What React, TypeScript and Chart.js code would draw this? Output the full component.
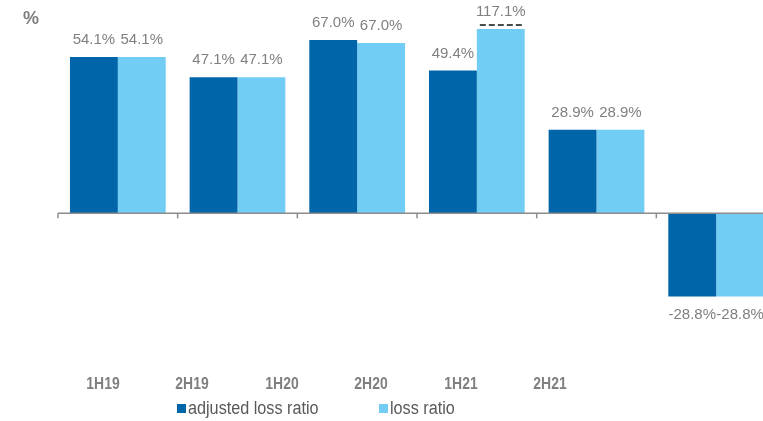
import React, { useEffect, useRef } from 'react';
import { Chart, registerables } from 'chart.js';

Chart.register(...registerables);

// ---- data ----
const categories = ['1H19', '2H19', '1H20', '2H20', '1H21', '2H21'];
const seriesNames = ['adjusted loss ratio', 'loss ratio'];
// values printed on the bars (%)
const adjustedLossRatio = [54.1, 47.1, 67.0, 49.4, 28.9, -28.8];
const lossRatio = [54.1, 47.1, 67.0, 117.1, 28.9, -28.8];
// bar heights as drawn in the picture (tall bars are shortened / broken)
const adjustedBarHeight = [54.1, 47.1, 60.0, 49.4, 28.9, -28.8];
const lossBarHeight = [54.1, 47.1, 58.9, 63.8, 28.9, -28.8];
const brokenLossBar = [false, false, false, true, false, false];

const DARK = '#0065A9';
const LIGHT = '#71CDF4';
const FONT = '"Liberation Sans", Arial, sans-serif';

const overlayPlugin = {
  id: 'overlay',
  afterDatasetsDraw(chart: any) {
    const { ctx, chartArea, scales } = chart;
    const x = scales.x;
    const y = scales.y;
    const y0 = y.getPixelForValue(0);
    ctx.save();
    // zero axis line with category boundary ticks
    ctx.strokeStyle = '#8c8c8c';
    ctx.lineWidth = 1.5;
    ctx.beginPath();
    ctx.moveTo(chartArea.left, y0);
    ctx.lineTo(chartArea.right, y0);
    ctx.stroke();
    const step = x.getPixelForValue(1) - x.getPixelForValue(0);
    for (let i = 0; i < categories.length; i++) {
      const bx = x.getPixelForValue(i) - step / 2;
      ctx.beginPath();
      ctx.moveTo(bx, y0);
      ctx.lineTo(bx, y0 + 5);
      ctx.stroke();
    }
    // value labels
    ctx.font = `15px ${FONT}`;
    ctx.fillStyle = '#808080';
    ctx.textAlign = 'center';
    ctx.textBaseline = 'middle';
    [adjustedLossRatio, lossRatio].forEach((vals, di) => {
      const meta = chart.getDatasetMeta(di);
      meta.data.forEach((bar: any, i: number) => {
        const v = vals[i];
        const p = bar.getProps(['x', 'y', 'width'], true);
        const ty = v >= 0 ? p.y - 17 : p.y + 18;
        ctx.fillText(v.toFixed(1) + '%', p.x, ty);
        if (di === 1 && brokenLossBar[i]) {
          ctx.save();
          ctx.strokeStyle = '#111';
          ctx.lineWidth = 1.5;
          ctx.setLineDash([6, 3]);
          ctx.beginPath();
          ctx.moveTo(p.x - p.width / 2 + 3, p.y - 4);
          ctx.lineTo(p.x + p.width / 2, p.y - 4);
          ctx.stroke();
          ctx.restore();
        }
      });
    });
    ctx.restore();
  },
};

export default function App() {
  const ref = useRef<HTMLCanvasElement>(null);

  useEffect(() => {
    document.body.style.margin = '0';
    const canvas = ref.current;
    if (!canvas) return;
    const chart = new Chart(canvas, {
      type: 'bar',
      data: {
        labels: categories,
        datasets: [
          {
            label: seriesNames[0],
            data: adjustedBarHeight,
            backgroundColor: DARK,
            categoryPercentage: 0.8,
            barPercentage: 1.0,
          },
          {
            label: seriesNames[1],
            data: lossBarHeight,
            backgroundColor: LIGHT,
            categoryPercentage: 0.8,
            barPercentage: 1.0,
          },
        ],
      },
      options: {
        responsive: false,
        devicePixelRatio: 1,
        animation: false,
        layout: { padding: { left: 58, right: 24, top: 10, bottom: 21 } },
        plugins: {
          legend: { display: false },
          tooltip: { enabled: false },
        },
        scales: {
          x: { display: false },
          y: { display: false, min: -64.6, max: 70.35 },
        },
      },
      plugins: [overlayPlugin],
    });
    return () => chart.destroy();
  }, []);

  const labelStyle: React.CSSProperties = {
    position: 'absolute',
    top: 384,
    transform: 'translate(-50%, -50%) scaleX(0.87)',
    font: `bold 16px ${FONT}`,
    color: '#7f7f7f',
    whiteSpace: 'nowrap',
  };
  const legendText: React.CSSProperties = {
    position: 'absolute',
    top: 408,
    transform: 'translateY(-50%) scaleX(0.9)',
    transformOrigin: 'left center',
    font: `18px ${FONT}`,
    color: '#595959',
    whiteSpace: 'nowrap',
  };

  return (
    <div style={{ position: 'relative', width: 763, height: 421, overflow: 'hidden', background: '#fff' }}>
      <canvas ref={ref} width={800} height={421} style={{ position: 'absolute', left: 0, top: 0, width: 800, height: 421 }} />
      <div style={{ position: 'absolute', left: 23, top: 8, font: `bold 18px ${FONT}`, color: '#7f7f7f' }}>%</div>
      {categories.map((c, i) => (
        <div key={c} style={{ ...labelStyle, left: 103 + i * 89.4 }}>{c}</div>
      ))}
      <div style={{ position: 'absolute', left: 177, top: 404, width: 9, height: 9, background: DARK }} />
      <div style={{ ...legendText, left: 188 }}>{seriesNames[0]}</div>
      <div style={{ position: 'absolute', left: 379, top: 404, width: 9, height: 9, background: LIGHT }} />
      <div style={{ ...legendText, left: 390 }}>{seriesNames[1]}</div>
    </div>
  );
}
